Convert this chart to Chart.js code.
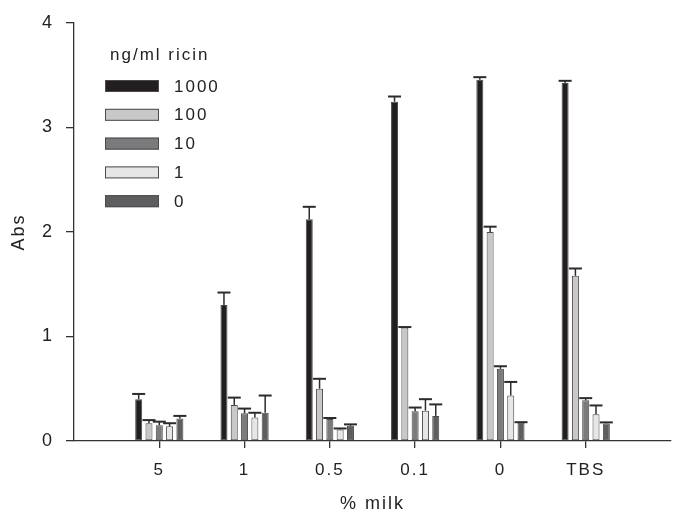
<!DOCTYPE html>
<html>
<head>
<meta charset="utf-8">
<script src="https://cdn.jsdelivr.net/npm/chart.js@4.4.0/dist/chart.umd.min.js"></script>
<style>
  body { margin: 0; background: #fff; }
  canvas { display: block; }
</style>
</head>
<body>
<canvas id="chart" width="673" height="518"></canvas>
<script>
// categories along the x axis (% milk)
const categories = ['5', '1', '0.5', '0.1', '0', 'TBS'];
const seriesNames = ['1000', '100', '10', '1', '0'];

// mean absorbance per ricin concentration
const ricin1000 = [0.40, 1.30, 2.12, 3.245, 3.455, 3.425];
const ricin100  = [0.17, 0.345, 0.50, 1.085, 2.00, 1.58];
const ricin10   = [0.15, 0.265, 0.21, 0.285, 0.69, 0.39];
const ricin1    = [0.14, 0.225, 0.11, 0.29, 0.435, 0.255];
const ricin0    = [0.215, 0.27, 0.145, 0.24, 0.175, 0.168];

// upper error (SD)
const err1000 = [0.05, 0.12, 0.12, 0.05, 0.025, 0.02];
const err100  = [0.03, 0.07, 0.095, 0.005, 0.05, 0.07];
const err10   = [0.035, 0.045, 0.01, 0.035, 0.025, 0.02];
const err1    = [0.03, 0.045, 0.01, 0.11, 0.13, 0.085];
const err0    = [0.025, 0.165, 0.014, 0.11, 0.005, 0.01];

const yTicks = [0, 1, 2, 3, 4];

const colors = ['#231f20', '#c8c8c8', '#7b7b7d', '#e6e6e6', '#5e5e60'];
const values = [ricin1000, ricin100, ricin10, ricin1, ricin0];
const errors = [err1000, err100, err10, err1, err0];

const xPos = categories.map((c, i) => i + 1);
const FONT = "'Liberation Sans', Arial, sans-serif";

const datasets = seriesNames.map((name, s) => ({
    label: name,
    data: values[s].map((v, i) => ({ x: xPos[i], y: v })),
    errors: errors[s],
    backgroundColor: colors[s],
    borderColor: '#4a4a4a',
    borderWidth: 1,
    borderSkipped: false,
    categoryPercentage: 0.604,
    barPercentage: 0.68
}));

// upward error bars with caps
const errorBars = {
    id: 'errorBars',
    afterDatasetsDraw(chart) {
        const ctx = chart.ctx;
        const y = chart.scales.y;
        ctx.save();
        ctx.strokeStyle = '#2b2b2b';
        chart.data.datasets.forEach((ds, di) => {
            const meta = chart.getDatasetMeta(di);
            meta.data.forEach((bar, i) => {
                const top = y.getPixelForValue(ds.data[i].y + ds.errors[i]);
                ctx.lineWidth = 1.5;
                ctx.beginPath();
                ctx.moveTo(bar.x, bar.y);
                ctx.lineTo(bar.x, top);
                ctx.stroke();
                ctx.lineWidth = 2;
                ctx.beginPath();
                ctx.moveTo(bar.x - 6.5, top);
                ctx.lineTo(bar.x + 6.5, top);
                ctx.stroke();
            });
        });
        ctx.restore();
    }
};

// legend block inside the plot
const insideLegend = {
    id: 'insideLegend',
    afterDraw(chart) {
        const ctx = chart.ctx;
        ctx.save();
        ctx.fillStyle = '#222';
        ctx.textBaseline = 'middle';
        ctx.textAlign = 'left';
        ctx.font = '17px ' + FONT;
        ctx.fillText('ng/ml ricin', 110, 55);
        seriesNames.forEach((name, i) => {
            const cy = 86 + i * 28.8;
            ctx.fillStyle = colors[i];
            ctx.fillRect(105, cy - 6, 54, 12);
            ctx.strokeStyle = '#4a4a4a';
            ctx.lineWidth = 1;
            ctx.strokeRect(105.5, cy - 5.5, 53, 11);
            ctx.fillStyle = '#222';
            ctx.fillText(name, 174, cy + 1);
        });
        ctx.restore();
    }
};

const spacing = {
    id: 'spacing',
    beforeDraw(chart) {
        chart.ctx.letterSpacing = '2px';
    }
};

new Chart(document.getElementById('chart'), {
    type: 'bar',
    data: { datasets: datasets },
    options: {
        responsive: false,
        animation: false,
        layout: { padding: { top: 22, right: 2, left: 0, bottom: 0 } },
        plugins: {
            legend: { display: false },
            tooltip: { enabled: false }
        },
        scales: {
            x: {
                type: 'linear',
                min: 0,
                max: 7,
                offset: false,
                afterBuildTicks(scale) {
                    scale.ticks = xPos.map(v => ({ value: v }));
                },
                afterFit(scale) { scale.height = 77; },
                ticks: {
                    callback: (v) => categories[v - 1] || '',
                    color: '#222',
                    font: { family: FONT, size: 17 },
                    padding: 12,
                    maxRotation: 0
                },
                grid: {
                    offset: false,
                    drawOnChartArea: false,
                    tickLength: 7,
                    color: '#333',
                    lineWidth: 1.3
                },
                border: { color: '#333', width: 1.3 },
                title: {
                    display: true,
                    text: '% milk',
                    color: '#222',
                    font: { family: FONT, size: 18 },
                    padding: { top: 0, bottom: 3 }
                }
            },
            y: {
                min: 0,
                max: 4,
                afterBuildTicks(scale) {
                    scale.ticks = yTicks.map(v => ({ value: v }));
                },
                afterFit(scale) { scale.width = 74; },
                ticks: {
                    color: '#222',
                    font: { family: FONT, size: 18 },
                    padding: 12
                },
                grid: {
                    drawOnChartArea: false,
                    tickLength: 8,
                    color: '#333',
                    lineWidth: 1.3
                },
                border: { color: '#333', width: 1.3 },
                title: {
                    display: true,
                    text: 'Abs',
                    color: '#222',
                    font: { family: FONT, size: 18 },
                    padding: { top: 8, bottom: 0 }
                }
            }
        }
    },
    plugins: [spacing, errorBars, insideLegend]
});
</script>
</body>
</html>
